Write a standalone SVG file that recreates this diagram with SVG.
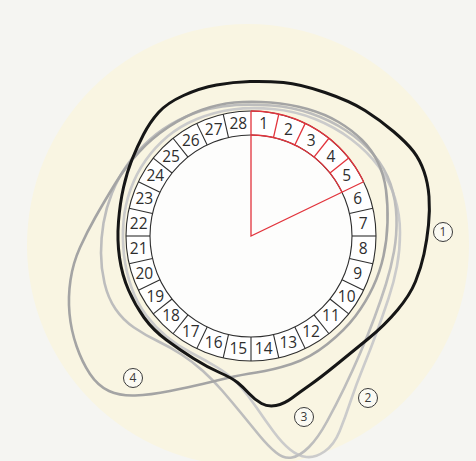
<svg xmlns="http://www.w3.org/2000/svg" width="476" height="461" viewBox="0 0 476 461">
<style>
.num{font-family:"Open Sans","Noto Sans","Liberation Sans",sans-serif;font-size:15.5px;fill:#2e2e2e;text-anchor:middle}
.lbl{font-family:"Open Sans","Noto Sans","Liberation Sans",sans-serif;font-size:12px;fill:#3a3a3a;text-anchor:middle}
.div{stroke:#2e2e2e;stroke-width:1.1}
.red{stroke:#e2343c;stroke-width:1.3;fill:none}
.curve{fill:none;stroke-linejoin:round}
.badge{fill:#fbfaf3;stroke:#3a3a3a;stroke-width:1}
</style>
<rect width="476" height="461" fill="#f5f5f2"/>
<circle cx="248" cy="245" r="221" fill="#f9f5e2"/>

<g id="connectors">
  <path id="curve-2" class="curve" stroke="#cbcbcb" stroke-width="2.6" d="M 273,109 Q 295,111 315,119 Q 335,127 351.5,139.5 Q 368,152 379,167 Q 390,182 395,198.5 Q 400,215 400,232.5 Q 400,250 397,266 Q 394,282 388.5,298.5 Q 383,315 377,331.5 Q 371,348 363.5,366.5 Q 356,385 350.5,401.5 Q 345,418 339.5,431.5 Q 334,445 324.5,451.5 Q 315,458 306.5,457 Q 298,456 290,449.5 Q 282,443 273.5,431.5 Q 265,420 256.5,407.5 Q 248,395 239,385 Q 230,375 217.5,367.5 Q 205,360 191.5,353 Q 178,346 166.5,336.5 Q 155,327 146,315 Q 137,303 131.5,287.5 Q 126,272 124,255 Q 122,238 123.5,221.5 Q 125,205 130.5,189.5 Q 136,174 145.5,160.5 Q 155,147 167.5,136.5 Q 180,126 197,119 Q 214,112 232.5,109.5 Q 251,107 273,109 Z"/>
  <path id="curve-3" class="curve" stroke="#bdbdbd" stroke-width="2.6" d="M 271.5,105.5 Q 292,107 311,113.5 Q 330,120 346,130.5 Q 362,141 373.5,154.5 Q 385,168 390.5,184 Q 396,200 396.5,217.5 Q 397,235 394,251.5 Q 391,268 386,284 Q 381,300 374.5,317.5 Q 368,335 360,353.5 Q 352,372 344,388.5 Q 336,405 327,421.5 Q 318,438 309,447 Q 300,456 292,457.5 Q 284,459 276,452.5 Q 268,446 259,435 Q 250,424 241,413 Q 232,402 222.5,391 Q 213,380 203,371 Q 193,362 181.5,354.5 Q 170,347 157.5,341 Q 145,335 134,327.5 Q 123,320 115.5,309 Q 108,298 104.5,283 Q 101,268 101,253 Q 101,238 103.5,223 Q 106,208 112,193 Q 118,178 127.5,164.5 Q 137,151 150,139.5 Q 163,128 179,120 Q 195,112 208.5,109 Q 222,106 236.5,105 Q 251,104 271.5,105.5 Z"/>
  <path id="curve-4" class="curve" stroke="#a4a4a4" stroke-width="2.6" d="M 270.5,102.5 Q 290,104 307.5,109 Q 325,114 338.5,122 Q 352,130 362,140 Q 372,150 378,162.5 Q 384,175 386,190 Q 388,205 387.5,222.5 Q 387,240 383.5,256 Q 380,272 373,287 Q 366,302 355.5,316 Q 345,330 327.5,344 Q 310,358 291.5,364 Q 273,370 256.5,372.5 Q 240,375 227.5,378 Q 215,381 202.5,384 Q 190,387 170,391 Q 150,395 135,395.5 Q 120,396 109,391 Q 98,386 90,374 Q 82,362 76.5,346 Q 71,330 69.5,313.5 Q 68,297 70.5,280 Q 73,263 80,247.5 Q 87,232 95.5,217 Q 104,202 115,184 Q 126,166 139,152 Q 152,138 168.5,127 Q 185,116 201.5,110 Q 218,104 234.5,102.5 Q 251,101 270.5,102.5 Z"/>
  <path id="curve-1" class="curve" stroke="#161616" stroke-width="3" d="M 428.5,225 Q 427,240 424,254 Q 421,268 415.5,281.5 Q 410,295 397.5,310 Q 385,325 368.5,338.5 Q 352,352 336,365 Q 320,378 310,385 Q 300,392 292,398 Q 284,404 276,405.5 Q 268,407 261.5,403.5 Q 255,400 249,393.5 Q 243,387 237.5,382.5 Q 232,378 219.5,372.5 Q 207,367 193.5,358.5 Q 180,350 166.5,340 Q 153,330 144,317.5 Q 135,305 128.5,290 Q 122,275 119.5,257.5 Q 117,240 118.5,221.5 Q 120,203 123.5,187.5 Q 127,172 132,159.5 Q 137,147 143.5,134.5 Q 150,122 158.5,112.5 Q 167,103 183.5,95.5 Q 200,88 216.5,85 Q 233,82 250,81.5 Q 267,81 283.5,82.5 Q 300,84 325,92.5 Q 350,101 365,110.5 Q 380,120 393.5,131.5 Q 407,143 413.5,151.5 Q 420,160 424,171.5 Q 428,183 429,196.5 Q 430,210 428.5,225 Z"/>
</g>

<g id="cycle-ring">
  <circle cx="251" cy="236" r="125" fill="#ffffff" stroke="#2e2e2e" stroke-width="1.1"/>
  <circle cx="251" cy="236" r="101" fill="#fdfdfc" stroke="#2e2e2e" stroke-width="1.1"/>
  <g class="div">
    <line x1="349.46" y1="213.53" x2="372.86" y2="208.19"/>
    <line x1="352" y1="236" x2="376" y2="236"/>
    <line x1="349.46" y1="258.47" x2="372.86" y2="263.81"/>
    <line x1="342" y1="279.82" x2="363.63" y2="290.24"/>
    <line x1="329.96" y1="299" x2="348.73" y2="313.94"/>
    <line x1="314" y1="314.96" x2="328.94" y2="333.73"/>
    <line x1="294.82" y1="327" x2="305.24" y2="348.63"/>
    <line x1="273.47" y1="334.46" x2="278.81" y2="357.86"/>
    <line x1="251" y1="337" x2="251" y2="361"/>
    <line x1="228.53" y1="334.46" x2="223.19" y2="357.86"/>
    <line x1="207.18" y1="327" x2="196.76" y2="348.63"/>
    <line x1="188" y1="314.96" x2="173.06" y2="333.73"/>
    <line x1="172.04" y1="299" x2="153.27" y2="313.94"/>
    <line x1="160" y1="279.82" x2="138.37" y2="290.24"/>
    <line x1="152.54" y1="258.47" x2="129.14" y2="263.81"/>
    <line x1="150" y1="236" x2="126" y2="236"/>
    <line x1="152.54" y1="213.53" x2="129.14" y2="208.19"/>
    <line x1="160" y1="192.18" x2="138.37" y2="181.76"/>
    <line x1="172.04" y1="173" x2="153.27" y2="158.06"/>
    <line x1="188" y1="157.04" x2="173.06" y2="138.27"/>
    <line x1="207.18" y1="145" x2="196.76" y2="123.37"/>
    <line x1="228.53" y1="137.54" x2="223.19" y2="114.14"/>
  </g>
  <g id="fertile-sector">
    <path class="red" d="M 251,111 A 125 125 0 0 1 363.63,181.76"/>
    <path class="red" d="M 251,135 A 101 101 0 0 1 342,192.18"/>
    <path class="red" d="M 251,111 L 251,236 L 363.63,181.76"/>
    <line class="red" x1="273.47" y1="137.54" x2="278.81" y2="114.14"/>
    <line class="red" x1="294.82" y1="145" x2="305.24" y2="123.37"/>
    <line class="red" x1="314" y1="157.04" x2="328.94" y2="138.27"/>
    <line class="red" x1="329.96" y1="173" x2="348.73" y2="158.06"/>
  </g>
  <g id="day-numbers">
    <text class="num" x="263.66" y="123.71" dy="0.36em">1</text>
    <text class="num" x="288.32" y="129.34" dy="0.36em">2</text>
    <text class="num" x="311.12" y="140.32" dy="0.36em">3</text>
    <text class="num" x="330.9" y="156.1" dy="0.36em">4</text>
    <text class="num" x="346.68" y="175.88" dy="0.36em">5</text>
    <text class="num" x="357.66" y="198.68" dy="0.36em">6</text>
    <text class="num" x="363.29" y="223.34" dy="0.36em">7</text>
    <text class="num" x="363.29" y="248.66" dy="0.36em">8</text>
    <text class="num" x="357.66" y="273.32" dy="0.36em">9</text>
    <text class="num" x="346.68" y="296.12" dy="0.36em">10</text>
    <text class="num" x="330.9" y="315.9" dy="0.36em">11</text>
    <text class="num" x="311.12" y="331.68" dy="0.36em">12</text>
    <text class="num" x="288.32" y="342.66" dy="0.36em">13</text>
    <text class="num" x="263.66" y="348.29" dy="0.36em">14</text>
    <text class="num" x="238.34" y="348.29" dy="0.36em">15</text>
    <text class="num" x="213.68" y="342.66" dy="0.36em">16</text>
    <text class="num" x="190.88" y="331.68" dy="0.36em">17</text>
    <text class="num" x="171.1" y="315.9" dy="0.36em">18</text>
    <text class="num" x="155.32" y="296.12" dy="0.36em">19</text>
    <text class="num" x="144.34" y="273.32" dy="0.36em">20</text>
    <text class="num" x="138.71" y="248.66" dy="0.36em">21</text>
    <text class="num" x="138.71" y="223.34" dy="0.36em">22</text>
    <text class="num" x="144.34" y="198.68" dy="0.36em">23</text>
    <text class="num" x="155.32" y="175.88" dy="0.36em">24</text>
    <text class="num" x="171.1" y="156.1" dy="0.36em">25</text>
    <text class="num" x="190.88" y="140.32" dy="0.36em">26</text>
    <text class="num" x="213.68" y="129.34" dy="0.36em">27</text>
    <text class="num" x="238.34" y="123.71" dy="0.36em">28</text>
  </g>
</g>

<g id="label-1"><circle class="badge" cx="443" cy="232" r="9.5"/><text class="lbl" x="443" y="232" dy="0.36em">1</text></g>
<g id="label-2"><circle class="badge" cx="368" cy="398" r="9.5"/><text class="lbl" x="368" y="398" dy="0.36em">2</text></g>
<g id="label-3"><circle class="badge" cx="304" cy="417" r="9.5"/><text class="lbl" x="304" y="417" dy="0.36em">3</text></g>
<g id="label-4"><circle class="badge" cx="133" cy="378" r="9.5"/><text class="lbl" x="133" y="378" dy="0.36em">4</text></g>
</svg>
